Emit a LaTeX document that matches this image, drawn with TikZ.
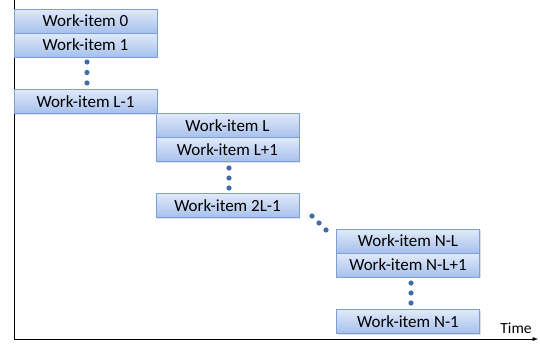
\documentclass[tikz,border=0pt]{standalone}
\usepackage{fontspec}
\setmainfont{Carlito}
\usetikzlibrary{shadows}
\definecolor{boxtop}{HTML}{E1EAFA}
\definecolor{boxbot}{HTML}{A6C0EC}
\definecolor{boxline}{HTML}{7E9FD6}
\definecolor{dotc}{HTML}{3F6DAA}
\begin{document}
\begin{tikzpicture}[x=1pt,y=-1pt,
  wi/.style={draw=boxline, line width=0.8pt, top color=boxtop, bottom color=boxbot,
    minimum width=143pt, minimum height=24pt, inner sep=0pt, font=\fontsize{17}{19}\selectfont,
    drop shadow={shadow xshift=1pt, shadow yshift=-1pt, opacity=0.25}},
  dt/.style={fill=dotc, draw=none},
  axis/.style={line width=0.9pt, black}]
\useasboundingbox (0,0) rectangle (540,343);
\draw[axis] (14,0) -- (14,339) coordinate (o);
\coordinate (xe) at (538,339);
\draw[axis,-latex] (o) -- (xe);
\node[font=\fontsize{15.5}{17}\selectfont, anchor=base] (time) at (516,333) {Time};
% column 1
\node[wi] (w0) at (85.5,21) {Work-item 0};
\node[wi] (w1) at (85.5,45) {Work-item 1};
\node[wi] (wL1) at (85.5,101.5) {Work-item L-1};
\foreach \y in {62,72.5,83} \fill[dt] (87,\y) circle (2.6pt);
% column 2
\node[wi] (wL) at (227.5,125.5) {Work-item L};
\node[wi] (wLp) at (227.5,149.5) {Work-item L+1};
\node[wi] (w2L) at (227.5,205.5) {Work-item 2L-1};
\foreach \y in {168,178,188} \fill[dt] (229,\y) circle (2.6pt);
% diagonal dots
\foreach \x/\y in {312/216,319/223,326/230} \fill[dt] (\x,\y) circle (2.6pt);
% column 3
\node[wi] (wNL) at (408,241) {Work-item N-L};
\node[wi] (wNLp) at (408,265) {Work-item N-L+1};
\node[wi] (wN1) at (408,321.5) {Work-item N-1};
\foreach \y in {283,293,303} \fill[dt] (411,\y) circle (2.6pt);
\end{tikzpicture}
\end{document}
